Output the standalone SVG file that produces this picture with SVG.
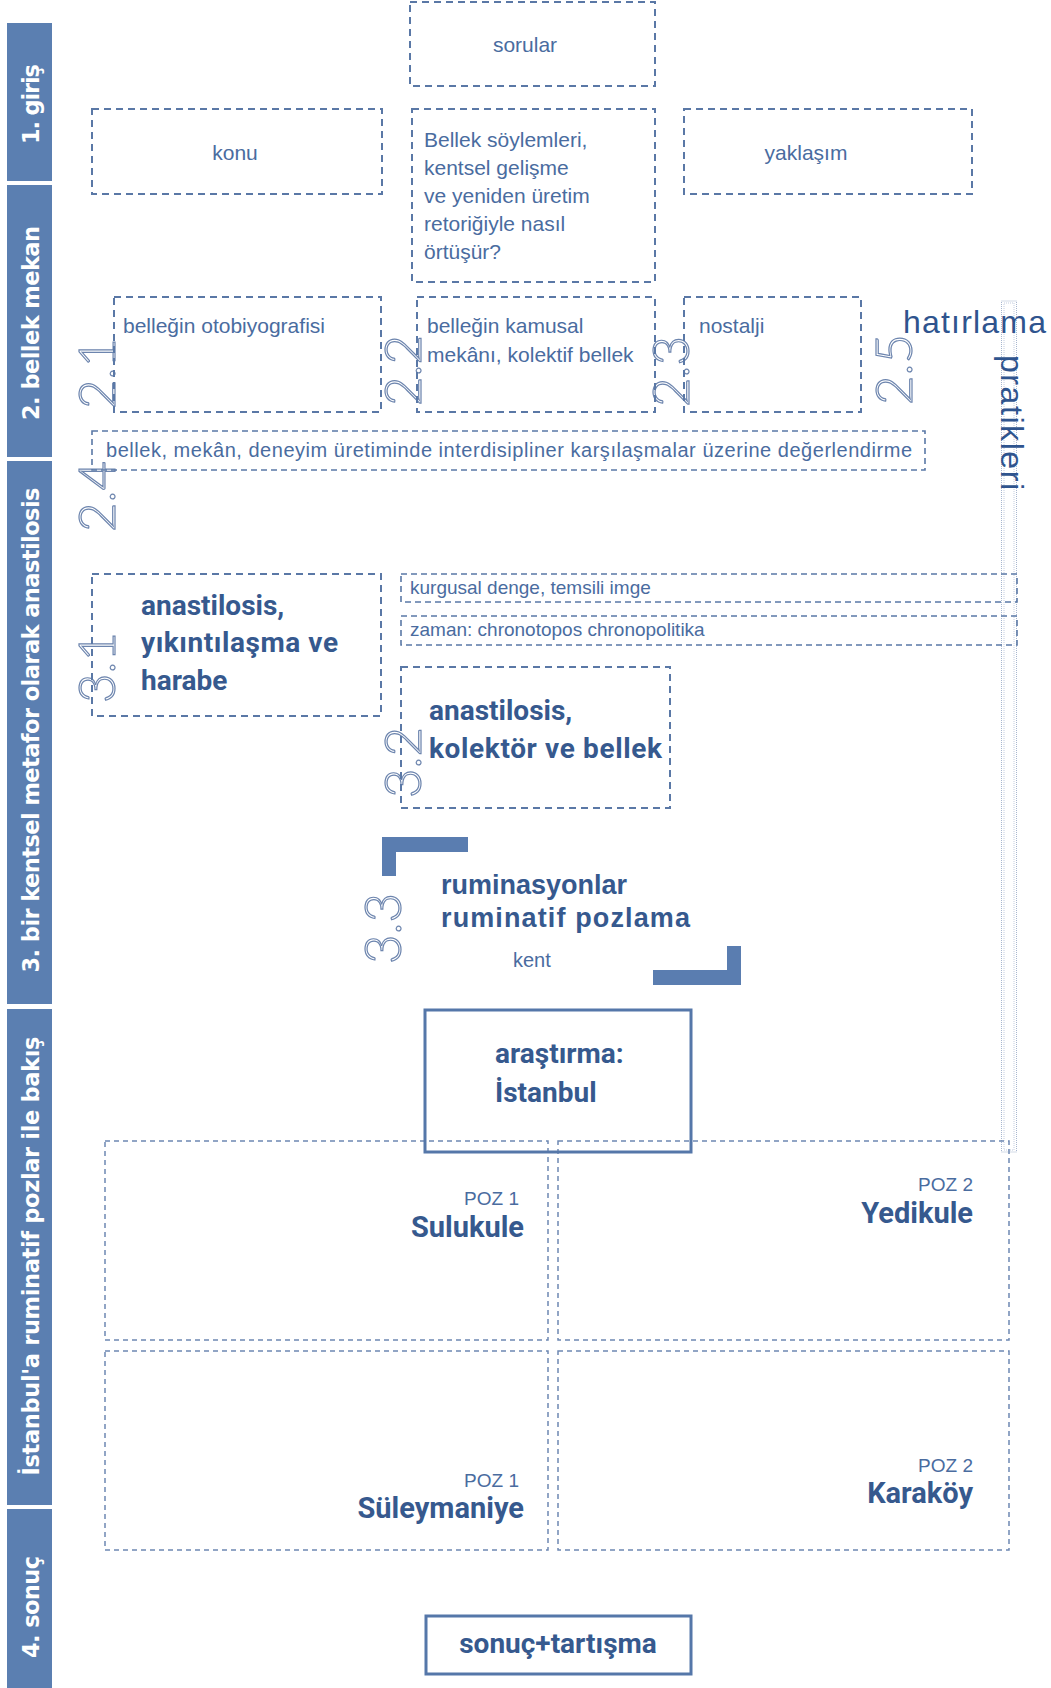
<svg xmlns="http://www.w3.org/2000/svg" width="1051" height="1688" viewBox="0 0 1051 1688">
<style>
.bar{fill:#5b7fb1}
.bt{font-family:"DejaVu Sans",Verdana,sans-serif;font-weight:700;font-size:22.5px;fill:#ffffff;text-anchor:middle}
.db{fill:none;stroke:#5a78a6;stroke-width:2;stroke-dasharray:7 5}
.dt{fill:none;stroke:#5a78a6;stroke-width:1.6;stroke-dasharray:6 4}
.dp{fill:none;stroke:#6e88b3;stroke-width:1.5;stroke-dasharray:5 4}
.sb{fill:none;stroke:#5577a9;stroke-width:3}
.t{font-family:"Liberation Sans",Arial,sans-serif;font-size:21px;fill:#4a6c9f}
.ts{font-family:"Liberation Sans",Arial,sans-serif;font-size:19px;fill:#4a6c9f}
.h{font-family:Roboto,"Liberation Sans",sans-serif;font-weight:700;font-size:28px;fill:#36598e}
.hb{font-family:"Liberation Sans",Arial,sans-serif;font-weight:700;font-size:27px;fill:#36598e}
.n{font-family:Lato,"Liberation Sans",sans-serif;font-weight:300;font-size:51px;fill:none;stroke:#6d85ae;stroke-width:1.2}
.poz{font-family:"Liberation Sans",Arial,sans-serif;font-size:19px;fill:#4a6c9f;text-anchor:end}
.pl{font-family:Roboto,"Liberation Sans",sans-serif;font-weight:700;font-size:29px;fill:#36598e;text-anchor:end}
.hp{font-family:"Liberation Sans",Arial,sans-serif;font-size:32px;fill:#2f548e}
.br{fill:#5a7db0}
</style>

<g id="sidebar">
  <g id="s1"><rect class="bar" x="7" y="23" width="45" height="158"/><text class="bt" transform="translate(39,104) rotate(-90)" textLength="80">1. giriş</text></g>
  <g id="s2"><rect class="bar" x="7" y="185" width="45" height="272"/><text class="bt" transform="translate(39,323) rotate(-90)" textLength="194">2. bellek mekan</text></g>
  <g id="s3"><rect class="bar" x="7" y="461" width="45" height="543"/><text class="bt" transform="translate(39,730) rotate(-90)" textLength="485">3. bir kentsel metafor olarak anastilosis</text></g>
  <g id="s4"><rect class="bar" x="7" y="1009" width="45" height="496"/><text class="bt" transform="translate(39,1256) rotate(-90)" textLength="439">İstanbul'a ruminatif pozlar ile bakış</text></g>
  <g id="s5"><rect class="bar" x="7" y="1509" width="45" height="179"/><text class="bt" transform="translate(39,1607) rotate(-90)" textLength="102">4. sonuç</text></g>
</g>

<g id="numerals">
  <text class="n" transform="translate(115,409) rotate(-90)">2.1</text>
  <text class="n" transform="translate(421,406) rotate(-90)">2.2</text>
  <text class="n" transform="translate(689,407) rotate(-90)">2.3</text>
  <text class="n" transform="translate(115,532) rotate(-90)">2.4</text>
  <text class="n" transform="translate(912,405) rotate(-90)">2.5</text>
  <text class="n" transform="translate(115,703) rotate(-90)">3.1</text>
  <text class="n" transform="translate(421,798) rotate(-90)">3.2</text>
  <text class="n" transform="translate(401,964) rotate(-90)">3.3</text>
</g>

<g id="sorular"><rect class="db" x="410" y="2" width="245" height="84"/><text class="t" x="525" y="52" text-anchor="middle">sorular</text></g>
<g id="konu"><rect class="db" x="92" y="109" width="290" height="85"/><text class="t" x="235" y="160" text-anchor="middle">konu</text></g>
<g id="soru-metni"><rect class="db" x="412" y="109" width="243" height="173"/>
  <text class="t" x="424" y="147">Bellek söylemleri,</text>
  <text class="t" x="424" y="175">kentsel gelişme</text>
  <text class="t" x="424" y="203">ve yeniden üretim</text>
  <text class="t" x="424" y="231">retoriğiyle nasıl</text>
  <text class="t" x="424" y="259">örtüşür?</text>
</g>
<g id="yaklasim"><rect class="db" x="684" y="109" width="288" height="85"/><text class="t" x="806" y="160" text-anchor="middle">yaklaşım</text></g>

<g id="n21"><rect class="db" x="114" y="297" width="267" height="115"/><text class="t" x="123" y="333">belleğin otobiyografisi</text></g>
<g id="n22"><rect class="db" x="417" y="297" width="238" height="115"/><text class="t" x="427" y="333">belleğin kamusal</text><text class="t" x="427" y="362">mekânı, kolektif bellek</text></g>
<g id="n23"><rect class="db" x="684" y="297" width="177" height="115"/><text class="t" x="699" y="333">nostalji</text></g>
<g id="n24"><rect class="dt" x="92" y="431" width="833" height="39"/><text class="t" x="106" y="457" textLength="806" style="font-size:20px">bellek, mekân, deneyim üretiminde interdisipliner karşılaşmalar üzerine değerlendirme</text></g>

<g id="n25">
  <rect x="1001.5" y="301" width="15" height="851" fill="none" stroke="#a7b6cf" stroke-width="1" stroke-dasharray="1 1"/>
  <rect x="1004" y="303" width="10" height="847" fill="none" stroke="#c3cde0" stroke-width="1" stroke-dasharray="1 1"/>
  <text class="hp" x="903" y="333" textLength="143">hatırlama</text>
  <text class="hp" transform="translate(1001,355) rotate(90)" textLength="135">pratikleri</text>
</g>

<g id="n31"><rect class="db" x="92" y="574" width="289" height="142"/>
  <text class="h" x="141" y="615">anastilosis,</text>
  <text class="h" x="141" y="652" textLength="197">yıkıntılaşma ve</text>
  <text class="h" x="141" y="690">harabe</text>
</g>
<g id="kurgusal"><rect class="dt" x="401" y="574" width="616" height="28"/><text class="ts" x="410" y="594">kurgusal denge, temsili imge</text></g>
<g id="zaman"><rect class="dt" x="401" y="616" width="616" height="29"/><text class="ts" x="410" y="636">zaman: chronotopos chronopolitika</text></g>
<g id="n32"><rect class="db" x="401" y="667" width="269" height="141"/>
  <text class="h" x="429" y="720">anastilosis,</text>
  <text class="h" x="429" y="758" textLength="233">kolektör ve bellek</text>
</g>

<g id="n33">
  <path class="br" d="M382 837H468V852H396V876H382Z"/>
  <path class="br" d="M741 985H653V970H727V946H741Z"/>
  <text class="hb" x="441" y="894">ruminasyonlar</text>
  <text class="hb" x="441" y="927" textLength="249">ruminatif pozlama</text>
  <text class="t" x="513" y="967" style="font-size:20px">kent</text>
</g>

<g id="poz-grid">
  <g id="sulukule"><rect class="dp" x="105" y="1141" width="443" height="199"/><text class="poz" x="519" y="1205">POZ 1</text><text class="pl" x="524" y="1237">Sulukule</text></g>
  <g id="yedikule"><rect class="dp" x="558" y="1141" width="451" height="199"/><text class="poz" x="973" y="1191">POZ 2</text><text class="pl" x="973" y="1223">Yedikule</text></g>
  <g id="suleymaniye"><rect class="dp" x="105" y="1351" width="443" height="199"/><text class="poz" x="519" y="1487">POZ 1</text><text class="pl" x="524" y="1518">Süleymaniye</text></g>
  <g id="karakoy"><rect class="dp" x="558" y="1351" width="451" height="199"/><text class="poz" x="973" y="1472">POZ 2</text><text class="pl" x="973" y="1503">Karaköy</text></g>
</g>

<g id="arastirma"><rect class="sb" x="425" y="1010" width="266" height="142"/>
  <text class="h" x="495" y="1063">araştırma:</text>
  <text class="h" x="495" y="1102">İstanbul</text>
</g>

<g id="sonuc"><rect class="sb" x="426" y="1616" width="265" height="58"/><text class="h" x="558" y="1653" text-anchor="middle">sonuç+tartışma</text></g>

<g id="connectors"></g>
</svg>
